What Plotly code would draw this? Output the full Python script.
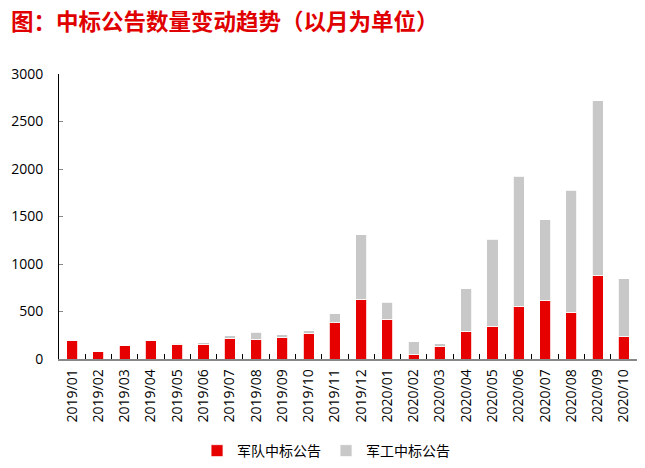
import plotly.graph_objects as go

months = ["2019/01","2019/02","2019/03","2019/04","2019/05","2019/06","2019/07","2019/08",
          "2019/09","2019/10","2019/11","2019/12","2020/01","2020/02","2020/03","2020/04",
          "2020/05","2020/06","2020/07","2020/08","2020/09","2020/10"]
army = [195, 77, 137, 196, 154, 154, 217, 206, 231, 273, 382, 627, 417, 45, 133, 291,
        343, 553, 617, 490, 880, 235]
total = [200, 80, 140, 200, 165, 170, 245, 280, 256, 295, 477, 1308, 596, 182, 161, 740,
         1262, 1925, 1466, 1778, 2717, 845]
military_industry = [t - a for t, a in zip(total, army)]

CJK = "Noto Sans CJK SC, Microsoft YaHei, sans-serif"
NUM = "Open Sans, Noto Sans CJK SC, sans-serif"
RED = "#E60000"
GRAY = "#C8C8C8"

fig = go.Figure()
fig.add_trace(go.Bar(x=months, y=army, name="军队中标公告",
                     marker=dict(color=RED, line=dict(color="white", width=0.8))))
fig.add_trace(go.Bar(x=months, y=military_industry, name="军工中标公告",
                     marker=dict(color=GRAY, line=dict(color="white", width=0.8))))

fig.update_layout(
    barmode="stack",
    bargap=0.58,
    width=645, height=468,
    margin=dict(l=59, r=8, t=74, b=109, autoexpand=False),
    plot_bgcolor="white", paper_bgcolor="white",
    font=dict(family=NUM, size=14, color="#000000"),
    title=dict(text="<b>图：中标公告数量变动趋势（以月为单位）</b>",
               x=0.017, xanchor="left", y=0.953, yanchor="middle",
               font=dict(family=CJK, size=22.5, color="#E00000")),
    legend=dict(orientation="h", x=0.462, xanchor="center", y=-0.323, yanchor="middle",
                font=dict(family=CJK, size=14), itemwidth=30, traceorder="normal"),
    xaxis=dict(type="category", tickangle=-90, showline=True, linecolor="#888888",
               linewidth=1.5, ticks="inside", tickson="boundaries", ticklen=5,
               tickcolor="#000000", tickfont=dict(family=NUM, size=14), showgrid=False,
               automargin=False, ticklabelstandoff=3),
    yaxis=dict(range=[0, 3000], dtick=500, showline=True, linecolor="#000000",
               linewidth=1, ticks="inside", ticklen=4, tickcolor="#888888",
               showgrid=False, zeroline=False, tickfont=dict(family=NUM, size=14),
               automargin=False, ticklabelstandoff=12),
)

fig.write_html("out.html")
